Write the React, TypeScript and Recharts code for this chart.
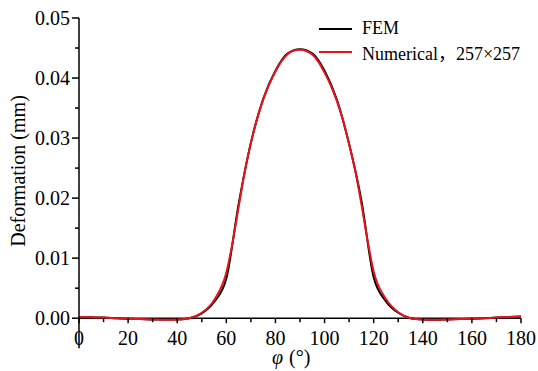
import React from 'react';
import { LineChart, Line, XAxis, YAxis, Legend, ReferenceLine } from 'recharts';

// FEM result, every 5 degrees
const femAngles = [
  0, 5, 10, 15, 20, 25, 30, 35, 40, 45, 50, 55, 60, 65, 70, 75, 80, 85, 90,
  95, 100, 105, 110, 115, 120, 125, 130, 135, 140, 145, 150, 155, 160, 165, 170, 175, 180,
];
const femValues = [
  0.0002, 0.00015, 0.0001, 0.0, -0.0001, -0.00015, -0.0002, -0.0002, -0.0002, 0.0, 0.0008, 0.0027,
  0.0066, 0.019, 0.0292, 0.0365, 0.0412, 0.0441, 0.0448, 0.0441, 0.0412, 0.0364, 0.029, 0.0196,
  0.0068, 0.0028, 0.0009, 0.0, -0.0002, -0.00025, -0.0002, -0.00015, -0.0001, 0.0, 0.0001, 0.0002, 0.0003,
];

// numerical solution, 257x257 grid
const numAngles = [
  0, 5, 10, 15, 20, 25, 30, 35, 40, 45, 50, 55, 60, 62.5, 65, 67.5, 70, 72.5, 75, 77.5, 80, 82.5,
  85, 87.5, 90, 92.5, 95, 97.5, 100, 102.5, 105, 107.5, 110, 112.5, 115, 117.5, 120, 125, 130, 135,
  140, 145, 150, 155, 160, 165, 170, 175, 180,
];
const numValues = [
  0.0002, 0.00015, 0.0001, 0.0, -0.0001, -0.00015, -0.0002, -0.00025, -0.0002, 0.0, 0.0009, 0.003,
  0.0076, 0.0125, 0.0185, 0.0244, 0.0292, 0.0332, 0.0364, 0.039, 0.0411, 0.0428, 0.044, 0.0446,
  0.0447, 0.0445, 0.0439, 0.0427, 0.0409, 0.0388, 0.0362, 0.033, 0.029, 0.0246, 0.019, 0.013,
  0.0078, 0.0032, 0.001, 0.0, -0.0002, -0.00025, -0.0002, -0.00015, -0.0001, 0.0, 0.0001, 0.0002, 0.0003,
];

const xTicks = [0, 10, 20, 30, 40, 50, 60, 70, 80, 90, 100, 110, 120, 130, 140, 150, 160, 170, 180];
const yTicks = [0, 0.005, 0.01, 0.015, 0.02, 0.025, 0.03, 0.035, 0.04, 0.045, 0.05];

const femData = femAngles.map((a, i) => ({ phi: a, v: femValues[i] }));
const numData = numAngles.map((a, i) => ({ phi: a, v: numValues[i] }));

const W = 538;
const H = 371;
const M = { top: 18, right: 17, left: 0, bottom: 0 };
const X_AXIS_H = 51;
const Y_MIN = -0.0003;
const Y_MAX = 0.05;
const PLOT_H = H - M.top - M.bottom - X_AXIS_H;
// distance between plot bottom and the zero line
const ZERO_OFF = (PLOT_H * -Y_MIN) / (Y_MAX - Y_MIN);

const FONT = 'Liberation Serif, Tinos, Times New Roman, Noto Sans CJK SC, serif';
const RED = '#e8141c';

const XTick = (props: any) => {
  const { x, y, payload } = props;
  const y0 = y - ZERO_OFF;
  const major = payload.value % 20 === 0;
  return (
    <g>
      <line x1={x} x2={x} y1={y0} y2={y0 + (major ? 5 : 4)} stroke="#000" strokeWidth={1.5} />
      {payload.value === 0 && <line x1={x} x2={x} y1={y0} y2={y0 + 30} stroke="#000" strokeWidth={1.5} />}
      {major && (
        <text x={x} y={y0 + 27} textAnchor="middle" style={{ fontFamily: FONT, fontSize: 20 }} fill="#000">
          {payload.value}
        </text>
      )}
    </g>
  );
};

const YTick = (props: any) => {
  const { x, y, payload } = props;
  const major = Math.round(payload.value * 1000) % 10 === 0;
  return (
    <g>
      <line x1={x - (major ? 7 : 4)} x2={x} y1={y} y2={y} stroke="#000" strokeWidth={1.5} />
      {major && (
        <text x={x - 9} y={y + 7} textAnchor="end" style={{ fontFamily: FONT, fontSize: 20 }} fill="#000">
          {payload.value.toFixed(2)}
        </text>
      )}
    </g>
  );
};

const YLabel = (props: any) => {
  const vb = props.viewBox;
  const cx = vb.x + 18;
  const cy = vb.y + vb.height / 2 + 2;
  return (
    <text
      x={cx}
      y={cy}
      transform={`rotate(-90 ${cx} ${cy})`}
      textAnchor="middle"
      dominantBaseline="central"
      style={{ fontFamily: FONT, fontSize: 20 }}
      fill="#000"
    >
      Deformation (mm)
    </text>
  );
};

const XLabel = () => (
  <g>
    <text x={272} y={364} style={{ fontFamily: FONT, fontSize: 20, fontStyle: 'italic' }} fill="#000">
      φ
    </text>
    <text x={289} y={364} style={{ fontFamily: FONT, fontSize: 20 }} fill="#000">
      (°)
    </text>
  </g>
);

const legendItems = [
  { name: 'FEM', color: '#000' },
  { name: 'Numerical，257×257', color: RED },
];

const LegendBox = () => (
  <div style={{ fontFamily: FONT, fontSize: 18, color: '#000' }}>
    {legendItems.map((it) => (
      <div key={it.name} style={{ display: 'flex', alignItems: 'center', height: 23.5, whiteSpace: 'nowrap' }}>
        <svg width={33} height={4} style={{ marginRight: 10 }}>
          <line x1={0} x2={33} y1={2} y2={2} stroke={it.color} strokeWidth={2} />
        </svg>
        <span>{it.name}</span>
      </div>
    ))}
  </div>
);

export default function App() {
  return (
    <div style={{ position: 'absolute', left: 0, top: 0, width: W, height: H, background: '#fff', fontFamily: FONT }}>
      <LineChart width={W} height={H} margin={M}>
        <XAxis
          dataKey="phi"
          type="number"
          domain={[0, 180]}
          ticks={xTicks}
          interval={0}
          height={X_AXIS_H}
          axisLine={false}
          tickLine={false}
          tickSize={0}
          tickMargin={0}
          tick={<XTick />}
          label={<XLabel />}
          allowDuplicatedCategory={false}
        />
        <YAxis
          type="number"
          domain={[Y_MIN, Y_MAX]}
          ticks={yTicks}
          interval={0}
          width={79}
          axisLine={{ stroke: '#000', strokeWidth: 1.5 }}
          tickLine={false}
          tickSize={0}
          tickMargin={0}
          tick={<YTick />}
          label={<YLabel />}
        />
        <ReferenceLine y={0} stroke="#000" strokeWidth={1.5} />
        <Legend
          layout="horizontal"
          verticalAlign="middle"
          align="center"
          wrapperStyle={{ left: 319, top: 17, width: 'auto' }}
          content={<LegendBox />}
        />
        <Line data={femData} dataKey="v" type="monotone" stroke="#000" strokeWidth={2} dot={false} isAnimationActive={false} />
        <Line data={numData} dataKey="v" type="monotone" stroke={RED} strokeWidth={2} dot={false} isAnimationActive={false} />
      </LineChart>
    </div>
  );
}
